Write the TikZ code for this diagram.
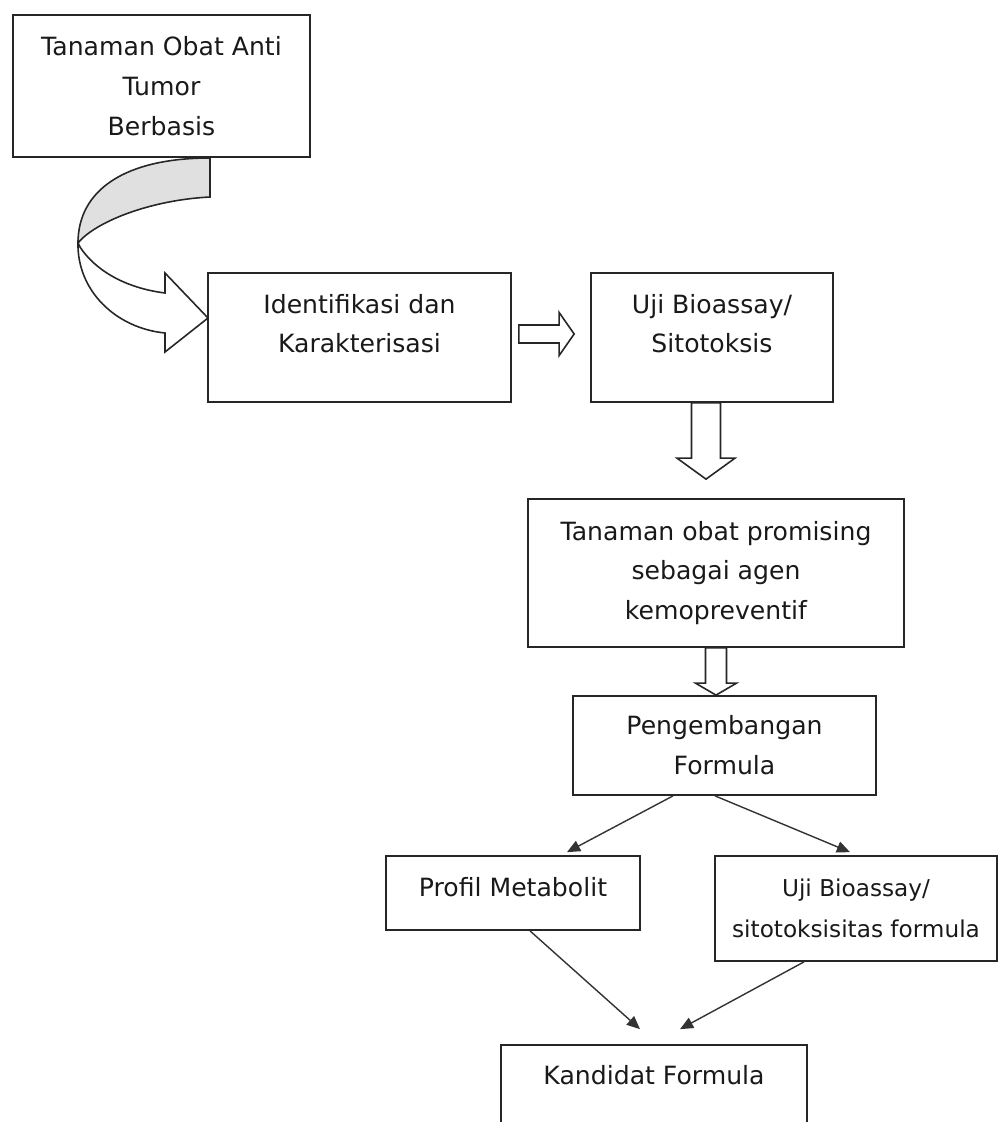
\documentclass[tikz,border=0pt]{standalone}
\usepackage{fontspec}
\setmainfont{DejaVu Sans}
\usetikzlibrary{arrows.meta,calc}

% hollow block arrow: start, end, half shaft, half head, head length
\newcommand{\hollowarrow}[5]{%
  \coordinate (hb) at ($(#2)!#5!(#1)$);
  \draw[hollow] ($(#1)!#3!90:(#2)$) -- ($(hb)!#3!-90:(#1)$) -- ($(hb)!#4!-90:(#1)$) -- (#2)
    -- ($(hb)!#4!90:(#1)$) -- ($(hb)!#3!90:(#1)$) -- ($(#1)!#3!-90:(#2)$) -- cycle;}

\begin{document}
\begin{tikzpicture}[x=0.02cm,y=-0.02cm,
    box/.style={draw=black!85,line width=1pt,inner sep=0pt,align=center,
      font=\fontsize{14.3}{22.7}\selectfont,text=black!90},
    hollow/.style={draw=black!85,line width=0.9pt,fill=white},
    flow/.style={draw=black!80,line width=0.8pt,-{Triangle[length=7.5pt,width=6.5pt]}}]

    \useasboundingbox (0,0) rectangle (1000,1122);
    \clip (0,0) rectangle (1000,1122);

    % boxes
    \node[box,minimum width=5.94cm,minimum height=2.84cm] (obat) at (161.5,86)
        {Tanaman Obat Anti\\Tumor\\Berbasis};
    \node[box,minimum width=6.06cm,minimum height=2.58cm,text depth=16pt] (ident) at (359.5,337.5)
        {Identifikasi dan\\Karakterisasi};
    \node[box,minimum width=4.84cm,minimum height=2.58cm,text depth=16pt] (bioassay) at (712,337.5)
        {Uji Bioassay/\\Sitotoksis};
    \node[box,minimum width=7.52cm,minimum height=2.96cm] (promising) at (716,573)
        {Tanaman obat promising\\sebagai agen\\kemopreventif};
    \node[box,minimum width=6.06cm,minimum height=1.98cm] (formula) at (724.5,745.5)
        {Pengembangan\\Formula};
    \node[box,minimum width=5.08cm,minimum height=1.48cm,text depth=7pt] (profil) at (513,893)
        {Profil Metabolit};
    \node[box,minimum width=5.64cm,minimum height=2.1cm,font=\fontsize{13.2}{23.5}\selectfont] (sitotoks) at (856,908.5)
        {Uji Bioassay/\\sitotoksisitas formula};
    \node[box,minimum width=6.12cm,minimum height=1.6cm,text depth=11pt] (kandidat) at (654,1085)
        {Kandidat Formula};

    % curved arrow out of the first box
    \draw[hollow] (78,243) .. controls (77,290) and (115,328) .. (165,333) -- (165,352) -- (208,318)
        -- (165,273) -- (165,293) .. controls (125,288) and (95,270) .. (80,247) -- cycle;
    \draw[hollow,fill=black!12] (210,158) .. controls (125,158) and (78,190) .. (78,243)
        .. controls (95,222) and (150,200) .. (210,197) -- cycle;

    % block arrows
    \coordinate (r1s) at ([shift={(0.14cm,0.07cm)}]ident.east);
    \coordinate (r1e) at ([shift={(-0.32cm,0.07cm)}]bioassay.west);
    \hollowarrow{r1s}{r1e}{0.18cm}{0.43cm}{0.3cm}

    \coordinate (d1s) at ([xshift=-0.12cm]bioassay.south);
    \coordinate (d1e) at ($(d1s |- promising.north)+(0,0.38cm)$);
    \hollowarrow{d1s}{d1e}{0.29cm}{0.58cm}{0.42cm}

    \coordinate (d2s) at (promising.south);
    \coordinate (d2e) at (d2s |- formula.north);
    \hollowarrow{d2s}{d2e}{0.21cm}{0.41cm}{0.24cm}

    % line arrows
    \draw[flow] ([xshift=-1.03cm]formula.south) -- ([shift={(1.08cm,0.06cm)}]profil.north);
    \draw[flow] ([xshift=-0.19cm]formula.south) -- ([shift={(-0.12cm,0.06cm)}]sitotoks.north);
    \draw[flow] ([xshift=0.34cm]profil.south) -- ([shift={(-0.28cm,0.3cm)}]kandidat.north);
    \draw[flow] ([xshift=-1.04cm]sitotoks.south) -- ([shift={(0.52cm,0.3cm)}]kandidat.north);
\end{tikzpicture}
\end{document}
